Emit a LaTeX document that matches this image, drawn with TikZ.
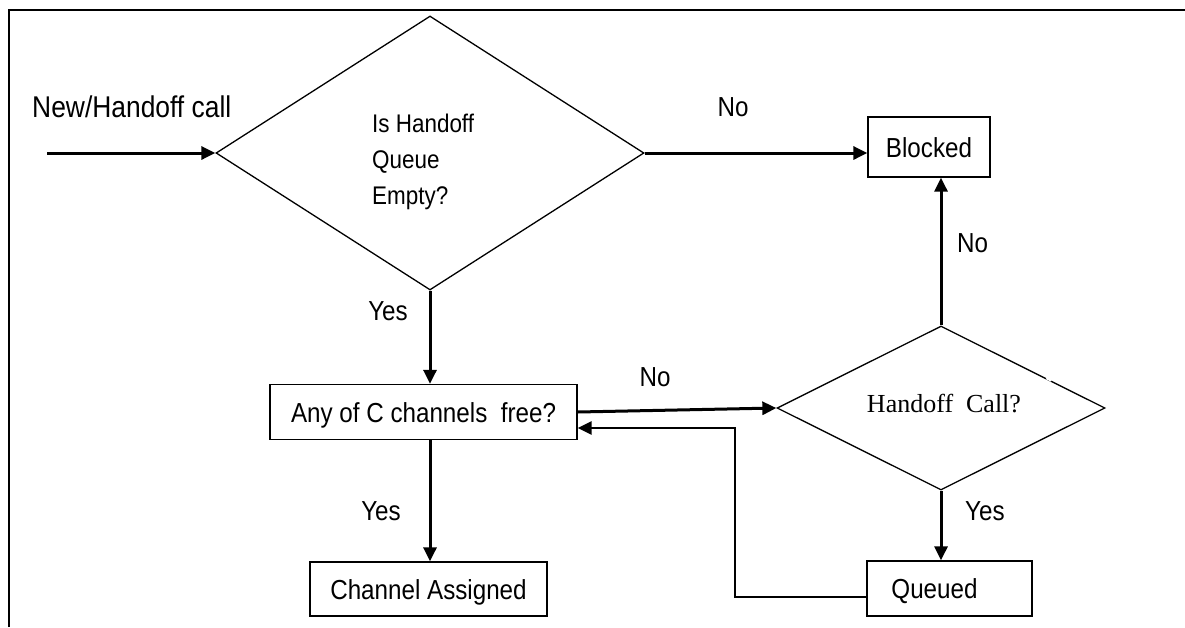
\documentclass[tikz,border=0pt]{standalone}
\usepackage{fontspec}
\newfontfamily\lab{Liberation Sans}[FakeStretch=0.88]
\newfontfamily\ser{Liberation Serif}
\usetikzlibrary{shapes.geometric,arrows.meta}
\begin{document}
\begin{tikzpicture}[x=1pt,y=-1pt,
  box/.style={draw, line width=1.3pt, inner sep=0pt, text height=20pt, text depth=0pt,
    font=\lab\fontsize{27.5}{32}\selectfont},
  dec/.style={diamond, draw, line width=1.3pt, inner sep=0pt},
  lbl/.style={inner sep=0pt, font=\lab\fontsize{27.5}{32}\selectfont},
  dtxt/.style={inner sep=0pt, font=\lab\fontsize{25.5}{30}\selectfont},
  arr/.style={line width=3pt, -{Triangle[length=14pt,width=13pt]}},
  ret/.style={line width=2.5pt, -{Triangle[length=14pt,width=13pt]}}]
\useasboundingbox (0,0) rectangle (1185,627);
% frame
\draw[line width=2pt] (9,627) -- (9,10) -- (1185,10);
% decisions
\node[dec, minimum width=428pt, minimum height=274pt] (d1) at (430,153) {};
\node[dtxt, anchor=base west] (d1a) at (372,132) {Is Handoff};
\node[dtxt, anchor=base west] (d1b) at (372,168) {Queue};
\node[dtxt, anchor=base west] (d1c) at (372,204) {Empty?};
\node[dec, minimum width=328pt, minimum height=164pt] (d2) at (941,408) {};
\node[inner sep=0pt, anchor=base, font=\ser\fontsize{26}{30}\selectfont] (d2t) at (944,412) {Handoff\ \ Call?};
\draw[white, line width=3pt] (1046.5,377.8) -- (1051.5,380.3);
% boxes
\node[box, minimum width=122pt, minimum height=60pt] (blk) at (929,147) {Blocked};
\node[box, minimum width=307pt, minimum height=55pt] (anyc) at (423.5,412) {Any of C channels\ \ free?};
\node[box, minimum width=237pt, minimum height=54pt] (chan) at (428.5,589) {Channel Assigned};
\node[box, minimum width=165pt, minimum height=55pt] (que) at (949.5,588.5) {Queued\kern30pt};
% labels
\node[lbl, anchor=base west, font=\lab\fontsize{30}{34}\selectfont] (newc) at (32,117) {New/Handoff call};
\node[lbl, anchor=base] (no1) at (733,116) {No};
\node[lbl, anchor=base west] (no2) at (957,252) {No};
\node[lbl, anchor=base] (no3) at (655,386) {No};
\node[lbl, anchor=base] (yes1) at (388,320) {Yes};
\node[lbl, anchor=base] (yes2) at (381,520) {Yes};
\node[lbl, anchor=base west] (yes3) at (965,520) {Yes};
% connectors
\coordinate (in) at (47,153);
\draw[arr] (in) -- (d1.west);
\draw[arr] (d1.east) -- (d1.east -| blk.west);
\draw[arr] (d2.north) -- (d2.north |- blk.south);
\draw[arr] (d1.south) -- (d1.south |- anyc.north);
\draw[arr] (anyc.east) -- (d2.west);
\draw[arr] (d2.south) -- (d2.south |- que.north);
\draw[arr] (anyc.south -| d1.south) -- (d1.south |- chan.north);
\coordinate (r1) at (735,597);
\coordinate (r2) at (735,428);
\draw[ret] (r1 -| que.west) -- (r1) -- (r2) -- (r2 -| anyc.east);
\end{tikzpicture}
\end{document}
